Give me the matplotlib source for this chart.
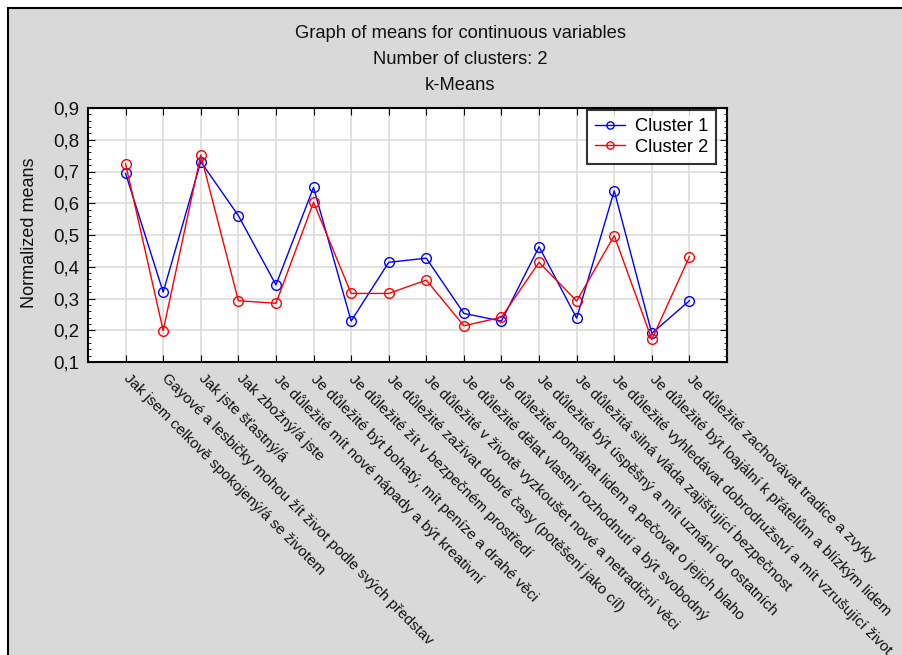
import matplotlib
matplotlib.use("Agg")
import matplotlib.pyplot as plt
from matplotlib.patches import Rectangle
from matplotlib.ticker import MultipleLocator, FuncFormatter
from matplotlib.transforms import ScaledTranslation

plt.rcParams['font.family'] = ['Liberation Sans', 'DejaVu Sans']

# Variables (x axis categories)
variables = [
    "Jak jsem celkově spokojený/á se životem",
    "Gayové a lesbičky mohou žít život podle svých představ",
    "Jak jste šťastný/á",
    "Jak zbožný/á jste",
    "Je důležité mít nové nápady a být kreativní",
    "Je důležité být bohatý, mít peníze a drahé věci",
    "Je důležité žít v bezpečném prostředí",
    "Je důležité zažívat dobré časy (potěšení jako cíl)",
    "Je důležité v životě vyzkoušet nové a netradiční věci",
    "Je důležité dělat vlastní rozhodnutí a být svobodný",
    "Je důležité pomáhat lidem a pečovat o jejich blaho",
    "Je důležité být úspěšný a mít uznání od ostatních",
    "Je důležitá silná vláda zajišťující bezpečnost",
    "Je důležité vyhledávat dobrodružství a mít vzrušující život",
    "Je důležité být loajální k přátelům a blízkým lidem",
    "Je důležité zachovávat tradice a zvyky",
]

# Normalized cluster means
cluster1 = [0.694, 0.320, 0.731, 0.561, 0.343, 0.650, 0.229, 0.414,
            0.427, 0.253, 0.229, 0.463, 0.238, 0.639, 0.190, 0.293]
cluster2 = [0.724, 0.199, 0.752, 0.293, 0.285, 0.603, 0.316, 0.316,
            0.358, 0.214, 0.241, 0.414, 0.292, 0.498, 0.171, 0.432]

title_lines = ["Graph of means for continuous variables",
               "Number of clusters: 2",
               "k-Means"]

fig = plt.figure(figsize=(9.02, 6.55), dpi=100)
fig.patch.set_facecolor("white")

# grey panel with dark frame (top/left edges visible)
panel = Rectangle((8 / 902, -0.01), 1.0, 1 - 8 / 655 + 0.01,
                  transform=fig.transFigure, facecolor="#d9d9d9",
                  edgecolor="black", linewidth=1.5, zorder=-10)
fig.patches.append(panel)

ax = fig.add_axes([88 / 902, 1 - 362 / 655, (727 - 88) / 902, (362 - 108) / 655])
ax.set_facecolor("white")

x = list(range(1, len(variables) + 1))
ax.plot(x, cluster1, color="blue", marker="o", markersize=7, markerfacecolor="none",
        markeredgewidth=1.0, linewidth=1.0, label="Cluster 1", zorder=3)
ax.plot(x, cluster2, color="red", marker="o", markersize=7, markerfacecolor="none",
        markeredgewidth=1.0, linewidth=1.0, label="Cluster 2", zorder=3)

ax.set_xlim(0, len(variables) + 1)
ax.set_ylim(0.1, 0.9)
ax.yaxis.set_major_locator(MultipleLocator(0.1))
ax.yaxis.set_minor_locator(MultipleLocator(0.02))
ax.yaxis.set_major_formatter(FuncFormatter(lambda v, p: f"{v:.1f}".replace(".", ",")))
ax.set_xticks(x)
ax.set_xticklabels(variables, rotation=-45, ha="left", va="top",
                   rotation_mode="anchor", fontsize=11, color="#111111")

ax.grid(True, color="#dcdcdc", linewidth=1.2, zorder=0)
ax.set_axisbelow(True)

ax.tick_params(axis="y", which="major", direction="in", length=5, left=True, right=True,
               labelsize=13.5, pad=6, labelcolor="#111111")
ax.tick_params(axis="y", which="minor", direction="in", length=2.5, left=True, right=True)
ax.tick_params(axis="x", which="major", direction="in", length=5, top=True, bottom=True,
               pad=6.5)
for s in ax.spines.values():
    s.set_linewidth(1.5)
    s.set_color("black")

# nudge the slanted labels a little to the right
shift = ScaledTranslation(4 / 72, 0, fig.dpi_scale_trans)
for lbl in ax.get_xticklabels():
    lbl.set_transform(lbl.get_transform() + shift)

leg = ax.legend(loc="upper right", fontsize=13.2, frameon=True, fancybox=False,
                edgecolor="black", borderaxespad=0.05, handlelength=1.65,
                borderpad=0.45, labelspacing=0.2, handletextpad=0.5, markerscale=0.75)
leg.get_frame().set_linewidth(1.5)
leg.set_bbox_to_anchor((717 / 902, 1 - 109 / 655), transform=fig.transFigure)

for line, yy in zip(title_lines, [33, 59, 86]):
    fig.text(0.51, 1 - yy / 655, line, ha="center", va="center", fontsize=13.2,
             color="#111111")

fig.text(30 / 902, 1 - 233 / 655, "Normalized means", rotation=90, ha="center",
         va="center", fontsize=13, color="#111111")

fig.savefig("out.png", dpi=100)
